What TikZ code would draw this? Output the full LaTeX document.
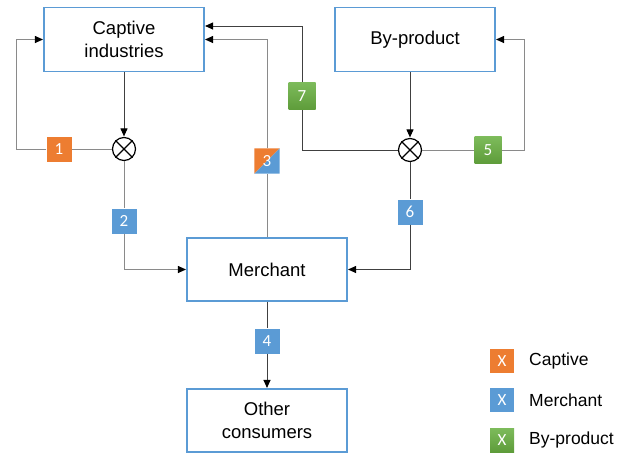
\documentclass[tikz,border=0pt]{standalone}
\usepackage{fontspec}
\setmainfont{Liberation Sans}
\newfontfamily\badgefont{Carlito}
\usetikzlibrary{arrows.meta,calc}
\definecolor{capt}{HTML}{ED7D31}
\definecolor{merc}{HTML}{5B9BD5}
\definecolor{bypgtop}{HTML}{7DBB5B}
\definecolor{bypgbot}{HTML}{5E9C3A}
\definecolor{wire}{HTML}{8A8A8A}
\definecolor{wiredark}{HTML}{404040}

\begin{document}
\begin{tikzpicture}[x=1pt,y=-1pt,
  box/.style={draw=merc, line width=1.1pt, fill=white, minimum width=160pt,
    minimum height=64pt, align=center, inner sep=0pt,
    font=\fontsize{18.5}{23.5}\selectfont},
  mixer/.style={circle, draw=black, line width=1.2pt, minimum size=23pt, inner sep=0pt},
  badge/.style={minimum size=25pt, inner sep=0pt, text=white,
    font=\badgefont\fontsize{17}{17}\selectfont},
  bcapt/.style={badge, fill=capt},
  bmerc/.style={badge, fill=merc},
  bbyp/.style={badge, top color=bypgtop, bottom color=bypgbot},
  legtext/.style={anchor=west, inner sep=0pt, font=\fontsize{17.5}{20}\selectfont},
  lite/.style={draw=wire, line width=1pt},
  dark/.style={draw=wiredark, line width=1pt},
  tip/.style={-{Triangle[length=8pt,width=7pt,color=black]}, shorten >=0.5pt}
]
\useasboundingbox (0,0) rectangle (619,453);

% boxes
\node[box] (capt) at (124,39.5) {Captive\\industries};
\node[box] (byp) at (415,39.5) {By-product};
\node[box, minimum height=63pt] (merch) at (267,269.5) {Merchant};
\node[box, minimum height=63pt] (other) at (267,420.5) {Other\\consumers};

% mixing points
\node[mixer] (ox1) at (124,149) {};
\node[mixer] (ox2) at (410,150) {};
\foreach \m in {ox1,ox2}{
  \draw[line width=1.2pt] (\m.north west) -- (\m.south east);
  \draw[line width=1.2pt] (\m.north east) -- (\m.south west);
}

% flow labels
\node[bcapt] (b1) at (59,149) {1};
\node[bmerc] (b2) at (124,221) {2};
\node[badge] (b3) at (267,161) {};
\fill[capt] (b3.north west) -- (b3.north east) -- (b3.south west) -- cycle;
\fill[merc] (b3.north east) -- (b3.south east) -- (b3.south west) -- cycle;
\node[badge] at (b3) {3};
\node[bmerc] (b4) at (267,341) {4};
\node[bbyp, minimum size=27pt] (b5) at (488,150) {5};
\node[bmerc] (b6) at (410,212) {6};
\node[bbyp, minimum size=27pt] (b7) at (302,96) {7};

% corners of the loops
\coordinate (c1) at (16,149);
\coordinate (c5) at (524,150);

% captive flows
\draw[dark,tip] (capt.south) -- (ox1.north);
\draw[lite] (ox1.west) -- (b1.east);
\draw[lite,tip] (b1.west) -- (c1) |- (capt.west);
\draw[lite] (ox1.south) -- (b2.north);
\draw[lite,tip] (b2.south) |- (merch.west);
\draw[lite] (merch.north) -- (b3.south);
\draw[lite,tip] (b3.north) |- (capt.east);

% by-product flows
\draw[dark,tip] (ox2.north |- byp.south) -- (ox2.north);
\draw[lite] (ox2.east) -- (b5.west);
\draw[lite,tip] (b5.east) -- (c5) |- (byp.east);
\draw[dark] (ox2.west) -| (b7.south);
\draw[dark,tip] (b7.north) |- ($(capt.east)+(0,-13.5)$);
\draw[dark] (ox2.south) -- (b6.north);
\draw[dark,tip] (b6.south) |- (merch.east);

% merchant to consumers
\draw[dark] (merch.south) -- (b4.north);
\draw[dark,tip] (b4.south) -- (other.north);

% legend
\node[bcapt, minimum size=24pt] (l1) at (502,361) {X};
\node[bmerc, minimum size=24pt] (l2) at (502,400) {X};
\node[bbyp, minimum size=24pt] (l3) at (502,440) {X};
\node[legtext] at (529,361) {Captive};
\node[legtext] at (529,400) {Merchant};
\node[legtext] at (529,440) {By-product};
\end{tikzpicture}
\end{document}
